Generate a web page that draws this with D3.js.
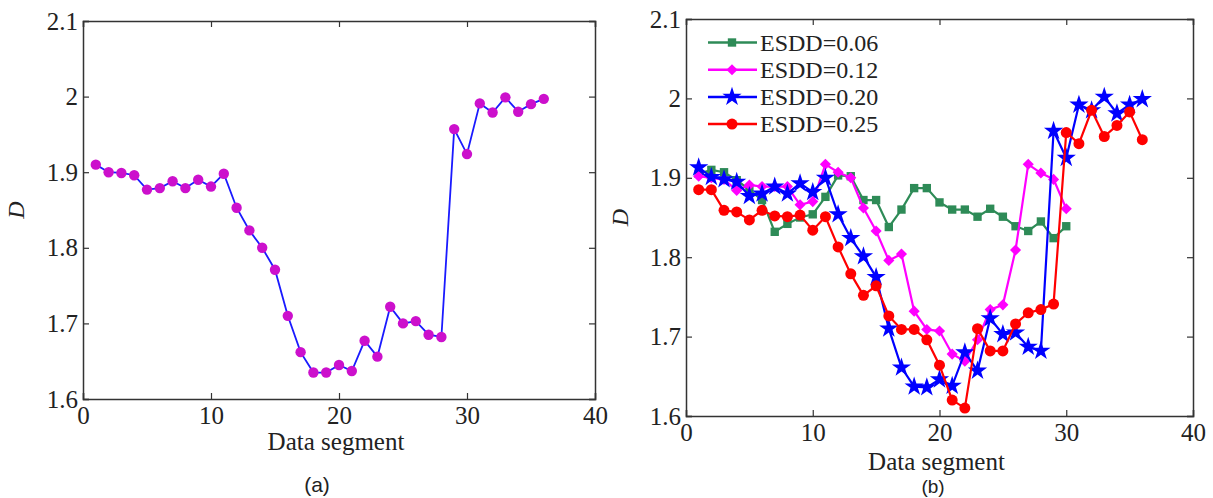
<!DOCTYPE html>
<html>
<head>
<meta charset="utf-8">
<script src="https://cdn.jsdelivr.net/npm/d3@7"></script>
<style>
  body { margin: 0; background: #fff; }
  svg text { font-family: "Liberation Serif", "DejaVu Serif", serif; fill: #222; }
</style>
</head>
<body>
<div id="chart"></div>
<script>
// data
const segA = d3.range(1, 37)
const dA = [1.910, 1.900, 1.899, 1.896, 1.877, 1.879, 1.888, 1.879, 1.890, 1.881,
            1.898, 1.853, 1.823, 1.800, 1.771, 1.710, 1.662, 1.635, 1.635, 1.645,
            1.637, 1.677, 1.656, 1.722, 1.700, 1.703, 1.685, 1.682, 1.957, 1.924,
            1.991, 1.979, 1.999, 1.980, 1.990, 1.997]

const esdd006 = [1.905, 1.910, 1.907, 1.897, 1.885, 1.872, 1.832, 1.842, 1.850, 1.854,
                 1.876, 1.903, 1.902, 1.872, 1.872, 1.838, 1.860, 1.887, 1.887, 1.869,
                 1.860, 1.860, 1.851, 1.861, 1.851, 1.839, 1.833, 1.845, 1.824, 1.839]
const esdd012 = [1.902, 1.900, 1.898, 1.884, 1.891, 1.889, 1.889, 1.889, 1.866, 1.870,
                 1.917, 1.907, 1.900, 1.862, 1.833, 1.796, 1.804, 1.732, 1.709, 1.707,
                 1.678, 1.669, 1.696, 1.734, 1.740, 1.809, 1.917, 1.906, 1.898, 1.861]
const esdd020 = [1.913, 1.901, 1.898, 1.895, 1.877, 1.880, 1.889, 1.880, 1.893, 1.882,
                 1.900, 1.854, 1.824, 1.801, 1.775, 1.710, 1.661, 1.637, 1.636, 1.646,
                 1.638, 1.680, 1.657, 1.723, 1.703, 1.705, 1.687, 1.682, 1.959, 1.925,
                 1.992, 1.985, 2.002, 1.981, 1.992, 1.999]
const esdd025 = [1.885, 1.885, 1.859, 1.857, 1.847, 1.859, 1.852, 1.851, 1.853, 1.834,
                 1.851, 1.813, 1.779, 1.752, 1.764, 1.726, 1.709, 1.709, 1.696, 1.664,
                 1.620, 1.610, 1.710, 1.682, 1.682, 1.716, 1.730, 1.734, 1.741, 1.957,
                 1.943, 1.985, 1.952, 1.966, 1.983, 1.948]

const seriesNames = ["ESDD=0.06", "ESDD=0.12", "ESDD=0.20", "ESDD=0.25"]
const seriesB = [esdd006, esdd012, esdd020, esdd025]
const seriesColors = ["#2e8b57", "#ff00ff", "#0000ff", "#ff0000"]
const seriesSymbols = [d3.symbolSquare, d3.symbolSquare, d3.symbolStar, d3.symbolCircle]
const seriesSizes = [70, 62, 115, 95]
const seriesRot = [0, 45, 0, 0]

const xTicks = [0, 10, 20, 30, 40]
const yTicks = [1.6, 1.7, 1.8, 1.9, 2, 2.1]

const svg = d3.select("#chart").append("svg")
  .attr("width", 1213)
  .attr("height", 498)

function panel(box) {
  const x = d3.scaleLinear().domain([0, 40]).range([box.left, box.right])
  const y = d3.scaleLinear().domain([1.6, 2.1]).range([box.bottom, box.top])
  const g = svg.append("g")

  // axes box with inward ticks on all four sides
  g.append("g")
    .attr("transform", `translate(0,${box.bottom})`)
    .call(d3.axisBottom(x).tickValues(xTicks).tickSize(-6).tickPadding(box.xpad).tickFormat(d3.format("d")))
  g.append("g")
    .attr("transform", `translate(0,${box.top})`)
    .call(d3.axisTop(x).tickValues(xTicks).tickSize(-6).tickFormat(""))
  g.append("g")
    .attr("transform", `translate(${box.left},0)`)
    .call(d3.axisLeft(y).tickValues(yTicks).tickSize(-6).tickPadding(5).tickFormat(d => d === 2 ? "2" : d3.format(".1f")(d)))
  g.append("g")
    .attr("transform", `translate(${box.right},0)`)
    .call(d3.axisRight(y).tickValues(yTicks).tickSize(-6).tickFormat(""))

  g.selectAll(".domain").attr("stroke", "#333").attr("stroke-width", 1.5)
  g.selectAll(".tick line").attr("stroke", "#333").attr("stroke-width", 1.2)
  g.selectAll(".tick text").style("font-size", "25px").style("font-family", "Liberation Serif").attr("fill", "#222")

  g.append("text")
    .attr("x", (box.left + box.right) / 2 - 3)
    .attr("y", box.labelY)
    .attr("text-anchor", "middle")
    .style("font-size", "25px")
    .text("Data segment")

  g.append("text")
    .attr("transform", `translate(${box.dX},${(box.top + box.bottom) / 2}) rotate(-90)`)
    .attr("text-anchor", "middle")
    .style("font-size", "24px")
    .style("font-style", "italic")
    .text("D")

  g.append("text")
    .attr("x", box.capX)
    .attr("y", box.capY)
    .attr("text-anchor", "middle")
    .style("font-size", box.capSize)
    .style("font-family", "Liberation Sans, Arial, sans-serif")
    .text(box.cap)

  return {x, y, g}
}

// panel (a)
const pa = panel({left: 83, right: 595, top: 21, bottom: 399, xpad: 7, labelY: 450, dX: 24, capX: 317, capY: 492, capSize: "21px", cap: "(a)"})

const lineA = d3.line().x((d, i) => pa.x(segA[i])).y(d => pa.y(d))
pa.g.append("path")
  .datum(dA)
  .attr("d", lineA)
  .attr("fill", "none")
  .attr("stroke", "#1a1aff")
  .attr("stroke-width", 1.8)

pa.g.selectAll("circle.pt")
  .data(dA)
  .enter()
  .append("circle")
    .attr("class", "pt")
    .attr("cx", (d, i) => pa.x(segA[i]))
    .attr("cy", d => pa.y(d))
    .attr("r", 5.2)
    .attr("fill", "#cc10cc")

// panel (b)
const pb = panel({left: 686, right: 1193, top: 19, bottom: 416, xpad: 7, labelY: 470, dX: 628, capX: 933, capY: 493, capSize: "19px", cap: "(b)"})

seriesB.forEach((vals, s) => {
  const line = d3.line().x((d, i) => pb.x(i + 1)).y(d => pb.y(d))
  pb.g.append("path")
    .datum(vals)
    .attr("d", line)
    .attr("fill", "none")
    .attr("stroke", seriesColors[s])
    .attr("stroke-width", 2.2)

  pb.g.selectAll(".m" + s)
    .data(vals)
    .enter()
    .append("path")
      .attr("class", "m" + s)
      .attr("d", d3.symbol().type(seriesSymbols[s]).size(seriesSizes[s]))
      .attr("transform", (d, i) => `translate(${pb.x(i + 1)},${pb.y(d)}) rotate(${seriesRot[s]})`)
      .attr("fill", seriesColors[s])
})

// legend
const legend = pb.g.append("g")
seriesNames.forEach((name, s) => {
  const ly = 42.5 + s * 27.2
  legend.append("line")
    .attr("x1", 708).attr("x2", 757)
    .attr("y1", ly).attr("y2", ly)
    .attr("stroke", seriesColors[s])
    .attr("stroke-width", 2.5)
  legend.append("path")
    .attr("d", d3.symbol().type(seriesSymbols[s]).size(seriesSizes[s]))
    .attr("transform", `translate(732,${ly}) rotate(${seriesRot[s]})`)
    .attr("fill", seriesColors[s])
  legend.append("text")
    .attr("x", 760)
    .attr("y", ly + 8)
    .style("font-size", "24px")
    .text(name)
})
</script>
</body>
</html>
